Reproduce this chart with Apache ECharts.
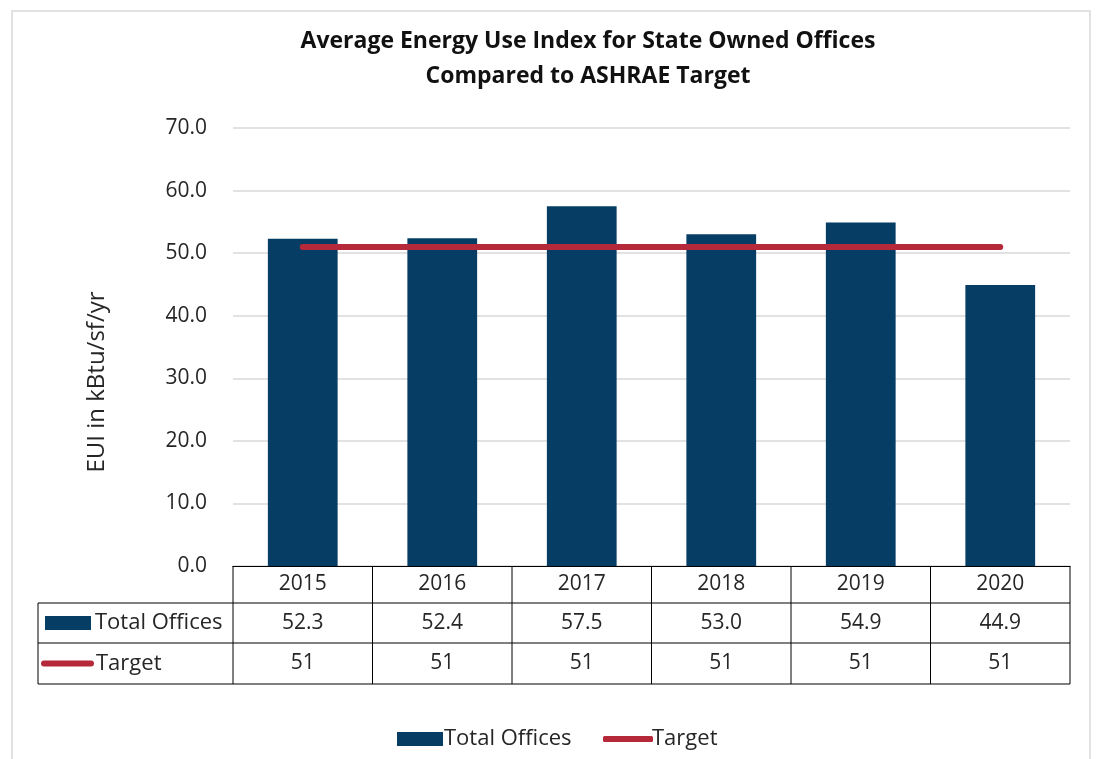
<!DOCTYPE html>
<html>
<head>
<meta charset="utf-8">
<script src="https://cdn.jsdelivr.net/npm/echarts@6/dist/echarts.min.js"></script>
<style>
  html, body { margin: 0; padding: 0; background: #fff; }
  #chart { width: 1099px; height: 759px; }
</style>
</head>
<body>
<div id="chart"></div>
<script>
// data
var years = ['2015', '2016', '2017', '2018', '2019', '2020'];
var totalOffices = [52.3, 52.4, 57.5, 53.0, 54.9, 44.9];
var target = [51, 51, 51, 51, 51, 51];
var seriesNames = ['Total Offices', 'Target'];

var barColor = '#063D64';
var lineColor = '#B6293B';
var textColor = '#262626';
var font = '"Open Sans", "Noto Sans", sans-serif';
var fs = 21;     // ticks and table numbers
var fsName = 22; // series names (legend, table rows)

// layout
var gridLeft = 233, gridRight = 29, gridTop = 128, gridBottom = 193;
var rowH = [37, 40, 41];      // year row, total offices row, target row
var tableLeft = 38;

var chart = echarts.init(document.getElementById('chart'));

chart.setOption({
  animation: false,
  title: {
    text: 'Average Energy Use Index for State Owned Offices\nCompared to ASHRAE Target',
    left: 583,
    textAlign: 'center',
    top: 19,
    textStyle: {
      fontFamily: '"Open Sans", sans-serif',
      fontWeight: 'bold',
      fontSize: 23,
      lineHeight: 35,
      color: '#111'
    }
  },
  grid: { left: gridLeft, right: gridRight, top: gridTop, bottom: gridBottom },
  legend: [
    {
      left: 392,
      top: 723,
      itemWidth: 46,
      itemHeight: 14,
      data: [{ name: 'Total Offices', icon: 'rect' }],
      textStyle: { fontFamily: font, fontSize: fsName, color: textColor, padding: [0, 0, 0, -4] }
    },
    {
      left: 598,
      top: 723,
      itemWidth: 50,
      itemHeight: 6,
      data: [{ name: 'Target', icon: 'roundRect' }],
      textStyle: { fontFamily: font, fontSize: fsName, color: textColor, padding: [0, 0, 0, -6] }
    }
  ],
  xAxis: {
    type: 'category',
    data: years,
    axisLine: { show: true, lineStyle: { color: '#000', width: 1 } },
    axisTick: { show: false },
    axisLabel: { margin: 18, verticalAlign: 'middle', fontFamily: font, fontSize: fs, color: textColor }
  },
  yAxis: {
    type: 'value',
    min: 0,
    max: 70,
    interval: 10,
    axisLine: { show: false },
    axisTick: { show: false },
    splitLine: { lineStyle: { color: '#d9d9d9', width: 1.5 } },
    axisLabel: {
      margin: 26,
      fontFamily: font,
      fontSize: fs,
      color: textColor,
      formatter: function (v) { return v.toFixed(1); }
    }
  },
  series: [
    {
      name: 'Total Offices',
      type: 'bar',
      data: totalOffices,
      barWidth: '50%',
      itemStyle: { color: barColor }
    },
    {
      name: 'Target',
      type: 'line',
      data: target,
      symbol: 'none',
      lineStyle: { color: lineColor, width: 6, cap: 'round' },
      itemStyle: { color: lineColor }
    }
  ]
});

// data table under the axis
function buildTable() {
  var els = [];
  var y0 = chart.convertToPixel({ yAxisIndex: 0 }, 0);
  var xs = years.map(function (y, i) { return chart.convertToPixel({ xAxisIndex: 0 }, i); });
  var step = xs[1] - xs[0];
  var left = xs[0] - step / 2;
  var right = xs[xs.length - 1] + step / 2;
  var r1 = y0 + rowH[0], r2 = r1 + rowH[1], r3 = r2 + rowH[2];
  var ls = { stroke: '#000', lineWidth: 1 };

  function line(x1, y1, x2, y2) {
    els.push({ type: 'line', shape: { x1: x1, y1: y1, x2: x2, y2: y2 }, style: ls, silent: true });
  }
  function text(x, y, str, align, size) {
    els.push({
      type: 'text', x: x, y: y,
      style: { text: str, fill: textColor, font: (size || fs) + 'px ' + font, align: align || 'center', verticalAlign: 'middle' },
      silent: true
    });
  }

  // horizontal lines
  line(tableLeft, r1, right, r1);
  line(tableLeft, r2, right, r2);
  line(tableLeft, r3, right, r3);
  // verticals
  line(tableLeft, r1, tableLeft, r3);
  for (var i = 0; i <= xs.length; i++) {
    var vx = left + step * i;
    line(vx, y0, vx, r3);
  }
  // values
  xs.forEach(function (x, i) {
    text(x, (r1 + r2) / 2, totalOffices[i].toFixed(1));
    text(x, (r2 + r3) / 2, String(target[i]));
  });
  // row headers with keys
  els.push({ type: 'rect', shape: { x: tableLeft + 7, y: (r1 + r2) / 2 - 7, width: 46, height: 14 }, style: { fill: barColor }, silent: true });
  text(tableLeft + 57, (r1 + r2) / 2, seriesNames[0], 'left', fsName);
  els.push({ type: 'line', shape: { x1: tableLeft + 6, y1: (r2 + r3) / 2, x2: tableLeft + 53, y2: (r2 + r3) / 2 }, style: { stroke: lineColor, lineWidth: 6, lineCap: 'round' }, silent: true });
  text(tableLeft + 58, (r2 + r3) / 2, seriesNames[1], 'left', fsName);

  // y axis name
  els.push({
    type: 'text', x: 97, y: 382, rotation: Math.PI / 2,
    style: { text: 'EUI in kBtu/sf/yr', fill: textColor, font: '24px ' + font, align: 'center', verticalAlign: 'middle' },
    silent: true
  });
  // outer frame
  els.push({ type: 'rect', shape: { x: 12, y: 11, width: 1078, height: 760 }, style: { fill: 'none', stroke: '#d9d9d9', lineWidth: 1.5 }, silent: true, z: -1 });

  chart.setOption({ graphic: els });
}
buildTable();
</script>
</body>
</html>
